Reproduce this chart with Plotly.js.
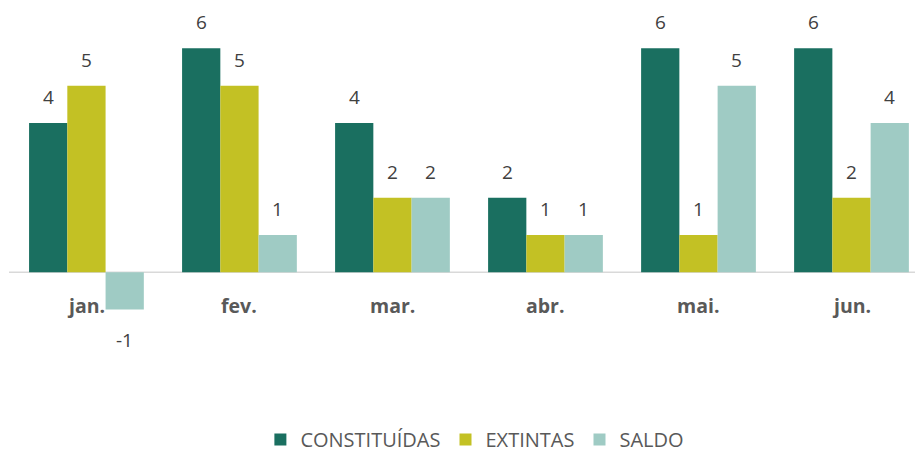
<!DOCTYPE html>
<html>
<head>
<meta charset="utf-8">
<script src="https://cdn.plot.ly/plotly-3.0.1.min.js"></script>
<style>html,body{margin:0;padding:0;background:#fff}#chart{width:915px;height:459px}</style>
</head>
<body>
<div id="chart"></div>
<script>
var categories = ['jan.', 'fev.', 'mar.', 'abr.', 'mai.', 'jun.'];
var seriesNames = ['CONSTITUÍDAS', 'EXTINTAS', 'SALDO'];
var constituidas = [4, 6, 4, 2, 6, 6];
var extintas = [5, 5, 2, 1, 1, 2];
var saldo = [-1, 1, 2, 1, 5, 4];

var colors = ['#1A6F60', '#C3C124', '#9FCBC4'];
var allSeries = [constituidas, extintas, saldo];
var FONT = '"Open Sans", "Noto Sans", sans-serif';

var traces = allSeries.map(function (vals, s) {
  return {
    type: 'bar',
    name: seriesNames[s],
    x: categories,
    y: vals,
    marker: {color: colors[s], line: {width: 0}},
    hoverinfo: 'skip'
  };
});

var pxPerCat = 915 / (5.415 + 0.565);
var barPx = pxPerCat * 0.25;
var offsets = [-barPx, 0, barPx];

var annotations = [];
allSeries.forEach(function (vals, s) {
  vals.forEach(function (v, i) {
    annotations.push({
      x: categories[i], y: v, xref: 'x', yref: 'y',
      xshift: offsets[s],
      yanchor: v >= 0 ? 'bottom' : 'top',
      yshift: v >= 0 ? 11 : -15,
      text: String(v), showarrow: false,
      font: {family: FONT, size: 19, color: '#404040'}
    });
  });
});
categories.forEach(function (c) {
  annotations.push({
    x: c, y: -0.9, xref: 'x', yref: 'y', yanchor: 'middle',
    text: '<b>' + c + '</b>', showarrow: false,
    font: {family: FONT, size: 19.5, color: '#595959'}
  });
});

var layout = {
  width: 915, height: 459,
  margin: {l: 0, r: 0, t: 0, b: 59},
  paper_bgcolor: '#fff', plot_bgcolor: '#fff',
  barmode: 'group', bargap: 0.25, bargroupgap: 0,
  showlegend: true,
  legend: {
    orientation: 'h', xref: 'container', yref: 'container',
    x: 0.519, xanchor: 'center', y: -4 / 459, yanchor: 'bottom',
    font: {family: FONT, size: 20, color: '#595959'},
    traceorder: 'normal', itemclick: false
  },
  xaxis: {
    type: 'category', range: [-0.565, 5.415], showticklabels: false,
    showgrid: false, zeroline: false, showline: false, ticks: '', fixedrange: true
  },
  yaxis: {
    range: [-3.421, 7.294], showticklabels: false, showgrid: false,
    zeroline: false, showline: false, ticks: '', fixedrange: true
  },
  shapes: [{
    type: 'line', xref: 'paper', yref: 'y', x0: 9 / 915, x1: 1, y0: 0, y1: 0,
    line: {color: '#D9D9D9', width: 1.5}, layer: 'below'
  }],
  annotations: annotations
};

Plotly.newPlot('chart', traces, layout, {displayModeBar: false, staticPlot: true});
</script>
</body>
</html>
